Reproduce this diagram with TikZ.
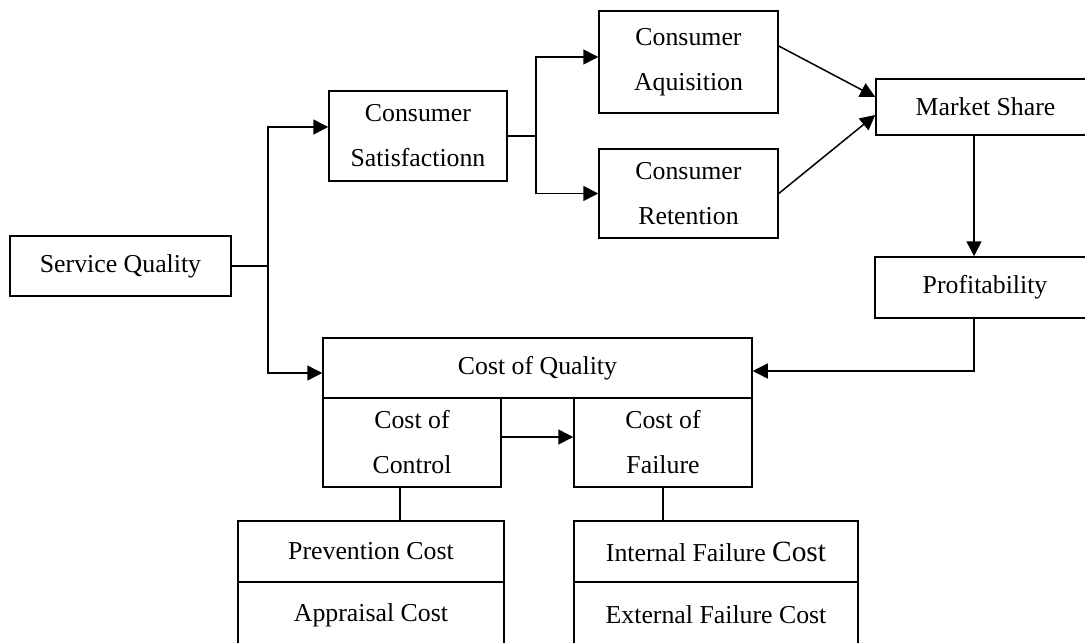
\documentclass[tikz,border=0pt]{standalone}
\usepackage{fontspec}
\setmainfont{Liberation Serif}
\usepackage{tikz}
\usetikzlibrary{arrows.meta}

\begin{document}
\begin{tikzpicture}[x=0.5pt,y=-0.5pt,line width=0.75pt,
    box/.style={draw,rectangle,inner sep=0pt,align=center,
      font=\fontsize{12.9}{22.5}\selectfont},
    arr/.style={-{Triangle[length=7.5pt,width=7.5pt]}}]
    \useasboundingbox (0,0) rectangle (1085,642);

    % top branch
    \node[box,minimum width=110.5pt,minimum height=30pt] (service) at (120.5,266) {Service Quality};
    \node[box,minimum width=89pt,minimum height=45pt] (satisf) at (418,136) {Consumer\\Satisfactionn};
    \node[box,minimum width=89.5pt,minimum height=51pt] (acquis) at (688.5,62) {Consumer\\Aquisition};
    \node[box,minimum width=89.5pt,minimum height=44.5pt] (retain) at (688.5,193.5) {Consumer\\Retention};
    \node[box,minimum width=109.5pt,minimum height=28pt] (market) at (985.5,107) {Market Share};
    \node[box,minimum width=110pt,minimum height=30.5pt] (profit) at (985,287.5) {Profitability};

    % cost branch
    \node[box,minimum width=214.5pt,minimum height=30pt] (coq) at (537.5,368) {Cost of Quality};
    \node[box,minimum width=89pt,minimum height=44.5pt] (control) at (412,442.5) {Cost of\\Control};
    \node[box,minimum width=89pt,minimum height=44.5pt] (failure) at (663,442.5) {Cost of\\Failure};
    \node[box,minimum width=133pt,minimum height=30.5pt] (prevent) at (371,551.5) {Prevention Cost};
    \node[box,minimum width=133pt,minimum height=33pt] (apprais) at (371,615) {Appraisal Cost};
    \node[box,minimum width=142pt,minimum height=30.5pt] (internal) at (716,551.5) {Internal Failure {\fontsize{14.7}{16}\selectfont Cost}};
    \node[box,minimum width=142pt,minimum height=33pt] (external) at (716,615) {External Failure Cost};

    \coordinate (split1) at (268,266);
    \coordinate (split2) at (536,136);

    \draw (service.east) -- (split1);
    \draw[arr] (split1) |- ([yshift=4.5pt]satisf.west);
    \draw[arr] (split1) |- ([yshift=-2.5pt]coq.west);
    \draw (satisf.east) -- (split2);
    \draw[arr] (split2) |- ([yshift=2.5pt]acquis.west);
    \draw[arr] (split2) |- (retain.west);
    \draw[arr] ([yshift=8pt]acquis.east) -- ([yshift=5pt]market.west);
    \draw[arr] (retain.east) -- ([yshift=-4pt]market.west);
    \draw[arr] ([xshift=-5.75pt]market.south) -- ([xshift=-5.75pt]market.south |- profit.north);
    \draw[arr] ([xshift=-5.5pt]profit.south) |- ([yshift=-1.5pt]coq.east);
    \draw[arr] ([yshift=2.75pt]control.east) -- ([yshift=2.75pt]failure.west);
    \draw ([xshift=-6pt]control.south) -- ([xshift=-6pt]control.south |- prevent.north);
    \draw (failure.south) -- (failure.south |- internal.north);
\end{tikzpicture}
\end{document}
